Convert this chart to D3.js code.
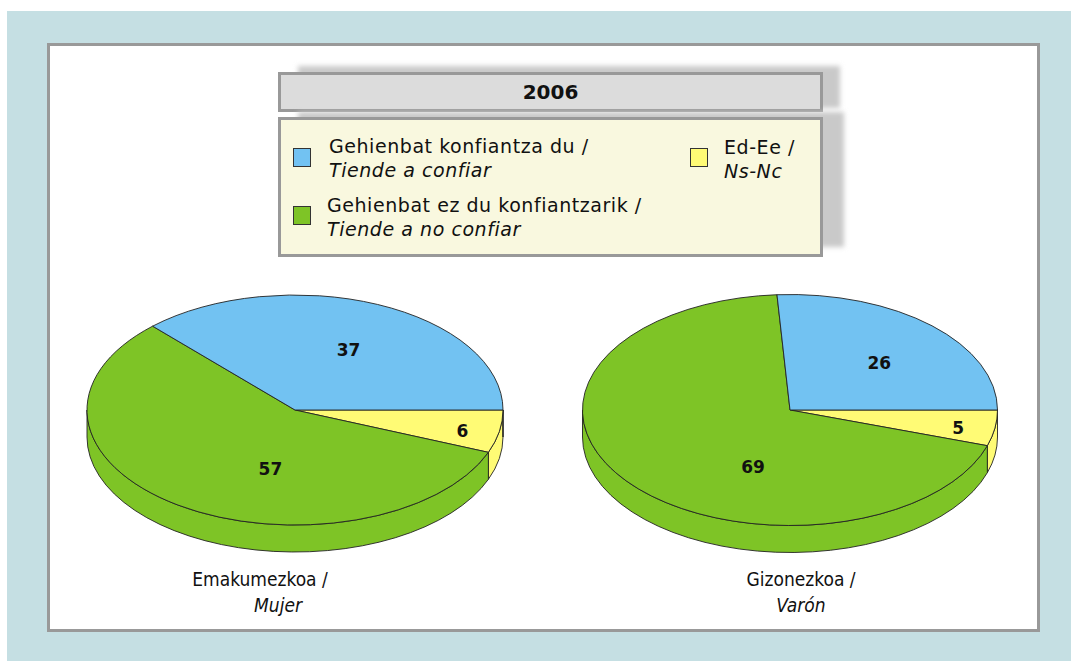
<!DOCTYPE html>
<html>
<head>
<meta charset="utf-8">
<script src="https://cdn.jsdelivr.net/npm/d3@7"></script>
<style>
  html, body { margin: 0; padding: 0; background: #ffffff; }
  svg { display: block; }
</style>
</head>
<body>
<svg id="chart" width="1071" height="661"></svg>
<script>
// ---------------- data ----------------
const title = "2006";
const categories = ["Ed-Ee", "Gehienbat ez du konfiantzarik", "Gehienbat konfiantza du"];
const legendBasque = ["Ed-Ee /", "Gehienbat ez du konfiantzarik /", "Gehienbat konfiantza du /"];
const legendSpanish = ["Ns-Nc", "Tiende a no confiar", "Tiende a confiar"];
const groupsBasque = ["Emakumezkoa /", "Gizonezkoa /"];
const groupsSpanish = ["Mujer", "Varón"];
const mujerValues = [6, 57, 37];
const varonValues = [5, 69, 26];

// ---------------- style ----------------
const colors = { "Ed-Ee": "#fffb75", "Gehienbat ez du konfiantzarik": "#7ec426", "Gehienbat konfiantza du": "#72c2f2" };
const W = 1071, H = 661;
const svg = d3.select("#chart");

const defs = svg.append("defs");
const blur = defs.append("filter").attr("id", "blur").attr("x", "-20%").attr("y", "-40%").attr("width", "140%").attr("height", "180%");
blur.append("feGaussianBlur").attr("stdDeviation", 2.5);

// background
svg.append("rect").attr("x", 7).attr("y", 11).attr("width", W - 7).attr("height", H - 11).attr("fill", "#c5dfe3");
svg.append("rect").attr("x", 48.5).attr("y", 44.5).attr("width", 990).attr("height", 586)
  .attr("fill", "#ffffff").attr("stroke", "#999999").attr("stroke-width", 3);

// title box
svg.append("rect").attr("x", 298).attr("y", 66).attr("width", 542).attr("height", 42)
  .attr("fill", "#c9c9c9").attr("filter", "url(#blur)");
svg.append("rect").attr("x", 279.5).attr("y", 73.5).attr("width", 542).attr("height", 37)
  .attr("fill", "#dcdcdc").attr("stroke", "#999999").attr("stroke-width", 3);
svg.append("text").attr("x", 550.5).attr("y", 99).attr("text-anchor", "middle")
  .attr("font-family", "'DejaVu Sans', Verdana, sans-serif").attr("font-weight", "bold").attr("font-size", 20)
  .attr("fill", "#111").text(title);

// legend box
svg.append("rect").attr("x", 298).attr("y", 112).attr("width", 546).attr("height", 135)
  .attr("fill", "#c9c9c9").attr("filter", "url(#blur)");
svg.append("rect").attr("x", 279.5).attr("y", 118.5).attr("width", 542).attr("height", 137)
  .attr("fill", "#f9f8df").attr("stroke", "#999999").attr("stroke-width", 3);

const legendFont = "'DejaVu Sans', Verdana, sans-serif";
const legendItems = [
  { cat: 2, sx: 293, sy: 148, tx: 329, ty: 153 },
  { cat: 1, sx: 293, sy: 206, tx: 327, ty: 212 },
  { cat: 0, sx: 690, sy: 148, tx: 724, ty: 154 }
];
legendItems.forEach(it => {
  const c = categories[it.cat];
  svg.append("rect").attr("x", it.sx + 0.5).attr("y", it.sy + 0.5).attr("width", 17).attr("height", 18)
    .attr("fill", colors[c]).attr("stroke", "#333").attr("stroke-width", 1);
  svg.append("text").attr("x", it.tx).attr("y", it.ty).attr("font-family", legendFont).attr("font-size", 19)
    .attr("letter-spacing", 0.55).attr("fill", "#111").text(legendBasque[it.cat]);
  svg.append("text").attr("x", it.tx).attr("y", it.ty + 24).attr("font-family", legendFont).attr("font-size", 19)
    .attr("letter-spacing", 0.55).attr("font-style", "italic").attr("fill", "#111").text(legendSpanish[it.cat]);
});

// ---------------- pies ----------------
const pie = d3.pie().sort(null).startAngle(Math.PI / 2).endAngle(Math.PI / 2 + 2 * Math.PI);
const pies = [
  { values: mujerValues, cx: 295, cy: 410, rx: 208, ry: 115, depth: 27, labelX: 260, labelX2: 278 },
  { values: varonValues, cx: 790, cy: 410, rx: 207.5, ry: 115.5, depth: 27, labelX: 801, labelX2: 801 }
];

pies.forEach((p, pi) => {
  const g = svg.append("g");
  const arcs = pie(p.values);
  const pt = (a, dy = 0) => [p.cx + p.rx * Math.sin(a), p.cy - p.ry * Math.cos(a) + dy];
  const fmt = q => q[0].toFixed(2) + "," + q[1].toFixed(2);

  // side walls (front half: angles between PI/2 and 3PI/2)
  arcs.forEach((d, i) => {
    const segs = [[Math.PI / 2, 3 * Math.PI / 2], [Math.PI / 2 + 2 * Math.PI, 3 * Math.PI / 2 + 2 * Math.PI]];
    segs.forEach(s => {
      const a0 = Math.max(d.startAngle, s[0]);
      const a1 = Math.min(d.endAngle, s[1]);
      if (a1 <= a0) return;
      const large = (a1 - a0) > Math.PI ? 1 : 0;
      const path = "M" + fmt(pt(a0)) +
        "A" + p.rx + "," + p.ry + " 0 " + large + " 1 " + fmt(pt(a1)) +
        "L" + fmt(pt(a1, p.depth)) +
        "A" + p.rx + "," + p.ry + " 0 " + large + " 0 " + fmt(pt(a0, p.depth)) + "Z";
      g.append("path").attr("d", path).attr("fill", colors[categories[i]])
        .attr("stroke", "#222").attr("stroke-width", 0.9).attr("stroke-linejoin", "round");
    });
  });

  // top faces
  arcs.forEach((d, i) => {
    const large = (d.endAngle - d.startAngle) > Math.PI ? 1 : 0;
    const path = "M" + p.cx + "," + p.cy + "L" + fmt(pt(d.startAngle)) +
      "A" + p.rx + "," + p.ry + " 0 " + large + " 1 " + fmt(pt(d.endAngle)) + "Z";
    g.append("path").attr("d", path).attr("fill", colors[categories[i]])
      .attr("stroke", "#222").attr("stroke-width", 0.9).attr("stroke-linejoin", "round");
  });

  // value labels
  arcs.forEach((d, i) => {
    let mid = (d.startAngle + d.endAngle) / 2;
    const share = d.value / d3.sum(p.values);
    let f;
    if (share > 0.5) { // large slices: pulled toward the front
      mid = mid + (Math.PI - (mid % (2 * Math.PI))) * 0.6;
      f = 0.5;
    } else if (share < 0.1) {
      f = 0.82;
    } else {
      f = 0.6;
    }
    const q = pt(mid);
    const x = p.cx + (q[0] - p.cx) * f, y = p.cy + (q[1] - p.cy) * f;
    g.append("text").attr("x", x + (share >= 0.1 && share <= 0.5 ? 4 : 0)).attr("y", y + 3).attr("dy", "0.36em").attr("text-anchor", "middle")
      .attr("font-family", "'DejaVu Sans', Verdana, sans-serif").attr("font-weight", "bold").attr("font-size", 17)
      .attr("fill", "#111").text(d.value);
  });

  // group labels
  svg.append("text").attr("x", p.labelX).attr("y", 586).attr("text-anchor", "middle")
    .attr("font-family", "'Liberation Sans Narrow', 'DejaVu Sans Condensed', sans-serif").attr("font-size", 19)
    .attr("fill", "#111").text(groupsBasque[pi]);
  svg.append("text").attr("x", p.labelX2).attr("y", 612).attr("text-anchor", "middle")
    .attr("font-family", "'Liberation Sans Narrow', 'DejaVu Sans Condensed', sans-serif").attr("font-size", 19)
    .attr("font-style", "italic").attr("fill", "#111").text(groupsSpanish[pi]);
});
</script>
</body>
</html>
